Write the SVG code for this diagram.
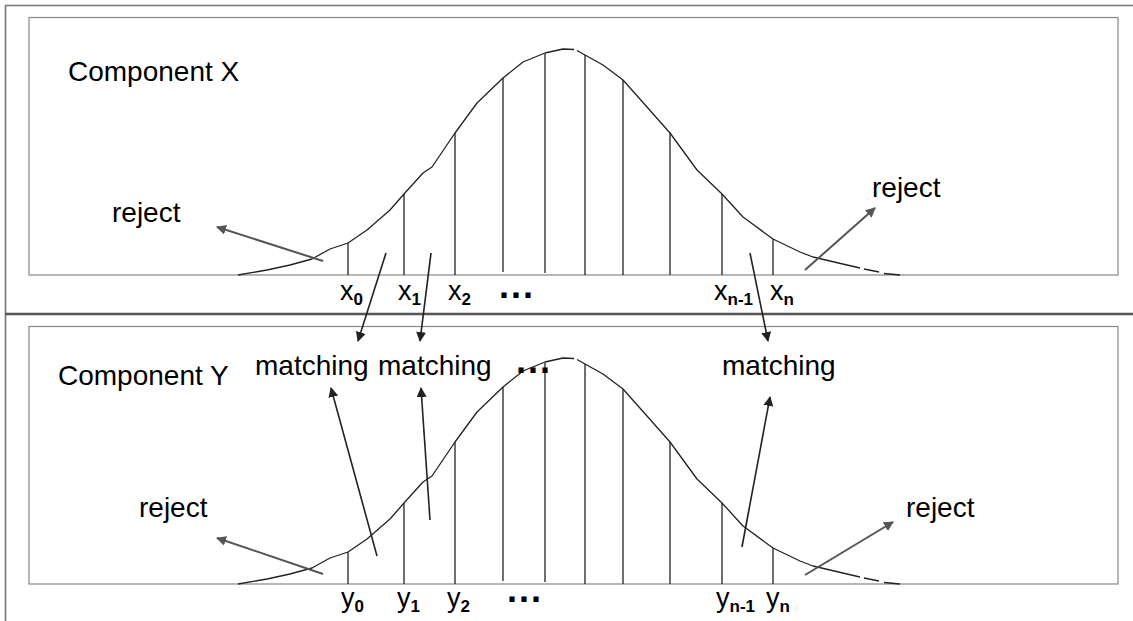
<svg xmlns="http://www.w3.org/2000/svg" width="1133" height="621" viewBox="0 0 1133 621">
<style>
  .frame{fill:none;stroke:#777;stroke-width:1.6}
  .divider{stroke:#555;stroke-width:2.4}
  .panel{fill:none;stroke:#888;stroke-width:1.2}
  .curve{fill:none;stroke:#222;stroke-width:1.3;stroke-linejoin:round}
  .vl{stroke:#222;stroke-width:1.3}
  .lbl{font-family:"Liberation Sans",Arial,sans-serif;font-size:28px;fill:#000}
  .xl{font-family:"Liberation Sans",Arial,sans-serif;font-size:27px;fill:#000}
  .sub{font-size:17px;font-weight:bold}
  .dots{font-family:"Liberation Sans",Arial,sans-serif;font-size:36px;font-weight:bold;letter-spacing:2px;fill:#000}
  .match{stroke:#222;stroke-width:1.6;fill:none}
  .rej{stroke:#555;stroke-width:2;fill:none}
</style>
<defs>
  <marker id="ahDark" viewBox="0 0 10 10" refX="9" refY="5" markerWidth="10" markerHeight="10" markerUnits="userSpaceOnUse" orient="auto">
    <path d="M0,0 L10,5 L0,10 z" fill="#222"/>
  </marker>
  <marker id="ahGray" viewBox="0 0 10 10" refX="9" refY="5" markerWidth="10" markerHeight="10" markerUnits="userSpaceOnUse" orient="auto">
    <path d="M0,0 L10,5 L0,10 z" fill="#555"/>
  </marker>
  <g id="bell">
    <polyline class="curve" points="238,275 267,270 290,265 312,259 330,249 348,243 367,230 390,210 404,194 423,173 432,167 455,133 477,103 503,78 523,62 545,53 563,49 574,49.5"/>
    <polyline class="curve" points="577,50.5 585,55 603,65 623,80 647,107 670,133 697,170 722,194 743,217 773,239 800,252 813,257 847,265 860,268"/>
    <polyline class="curve" points="864,269 879,272"/>
    <polyline class="curve" points="884,273.5 900,275"/>
    <line class="vl" x1="348" y1="243" x2="348" y2="275"/>
    <line class="vl" x1="404" y1="194" x2="404" y2="275"/>
    <line class="vl" x1="455" y1="133" x2="455" y2="275"/>
    <line class="vl" x1="503" y1="78" x2="503" y2="272"/>
    <line class="vl" x1="545" y1="54" x2="545" y2="273"/>
    <line class="vl" x1="585" y1="55" x2="585" y2="275"/>
    <line class="vl" x1="623" y1="80" x2="623" y2="275"/>
    <line class="vl" x1="670" y1="133" x2="670" y2="275"/>
    <line class="vl" x1="722" y1="194" x2="722" y2="275"/>
    <line class="vl" x1="773" y1="239" x2="773" y2="275"/>
  </g>
</defs>
<rect width="1133" height="621" fill="#fff"/>
<g id="frame">
  <polyline class="frame" points="1133,5.5 5.5,5.5 5.5,621"/>
  <line class="divider" x1="5" y1="314" x2="1133" y2="314"/>
</g>
<g id="componentX">
  <rect class="panel" x="29" y="17.5" width="1089" height="257.5"/>
  <use href="#bell"/>
  <text class="lbl" x="68" y="81">Component X</text>
  <text class="xl" x="340" y="300">x<tspan class="sub" dy="5">0</tspan></text>
  <text class="xl" x="398" y="300">x<tspan class="sub" dy="5">1</tspan></text>
  <text class="xl" x="448" y="300">x<tspan class="sub" dy="5">2</tspan></text>
  <text class="dots" x="499" y="298">...</text>
  <text class="xl" x="714" y="300">x<tspan class="sub" dy="5">n-1</tspan></text>
  <text class="xl" x="770" y="300">x<tspan class="sub" dy="5">n</tspan></text>
</g>
<g id="componentY">
  <rect class="panel" x="29" y="326.5" width="1089" height="257.5"/>
  <use href="#bell" transform="translate(0,309)"/>
  <text class="lbl" x="58" y="385">Component Y</text>
  <text class="xl" x="341" y="607">y<tspan class="sub" dy="5">0</tspan></text>
  <text class="xl" x="397" y="607">y<tspan class="sub" dy="5">1</tspan></text>
  <text class="xl" x="447" y="607">y<tspan class="sub" dy="5">2</tspan></text>
  <text class="dots" x="507" y="602">...</text>
  <text class="xl" x="716" y="607">y<tspan class="sub" dy="5">n-1</tspan></text>
  <text class="xl" x="766" y="607">y<tspan class="sub" dy="5">n</tspan></text>
</g>
<g id="labels">
  <text class="lbl" x="112" y="222">reject</text>
  <text class="lbl" x="872" y="197">reject</text>
  <text class="lbl" x="139" y="517">reject</text>
  <text class="lbl" x="906" y="517">reject</text>
  <text class="lbl" x="255" y="375">matching</text>
  <text class="lbl" x="378" y="375">matching</text>
  <text class="dots" x="516" y="373">...</text>
  <text class="lbl" x="722" y="375">matching</text>
</g>
<g id="connectors">
  <line class="rej" x1="323" y1="261" x2="217" y2="227" marker-end="url(#ahGray)"/>
  <line class="rej" x1="805" y1="270" x2="875" y2="208" marker-end="url(#ahGray)"/>
  <line class="rej" x1="323" y1="574" x2="217" y2="538" marker-end="url(#ahGray)"/>
  <line class="rej" x1="805" y1="575" x2="893" y2="522" marker-end="url(#ahGray)"/>
  <line class="match" x1="386" y1="253" x2="358" y2="341" marker-end="url(#ahDark)"/>
  <line class="match" x1="431" y1="253" x2="420" y2="341" marker-end="url(#ahDark)"/>
  <line class="match" x1="750" y1="253" x2="768" y2="341" marker-end="url(#ahDark)"/>
  <line class="match" x1="377" y1="556" x2="331" y2="388" marker-end="url(#ahDark)"/>
  <line class="match" x1="430" y1="520" x2="421" y2="388" marker-end="url(#ahDark)"/>
  <line class="match" x1="742" y1="547" x2="770" y2="397" marker-end="url(#ahDark)"/>
</g>
</svg>
